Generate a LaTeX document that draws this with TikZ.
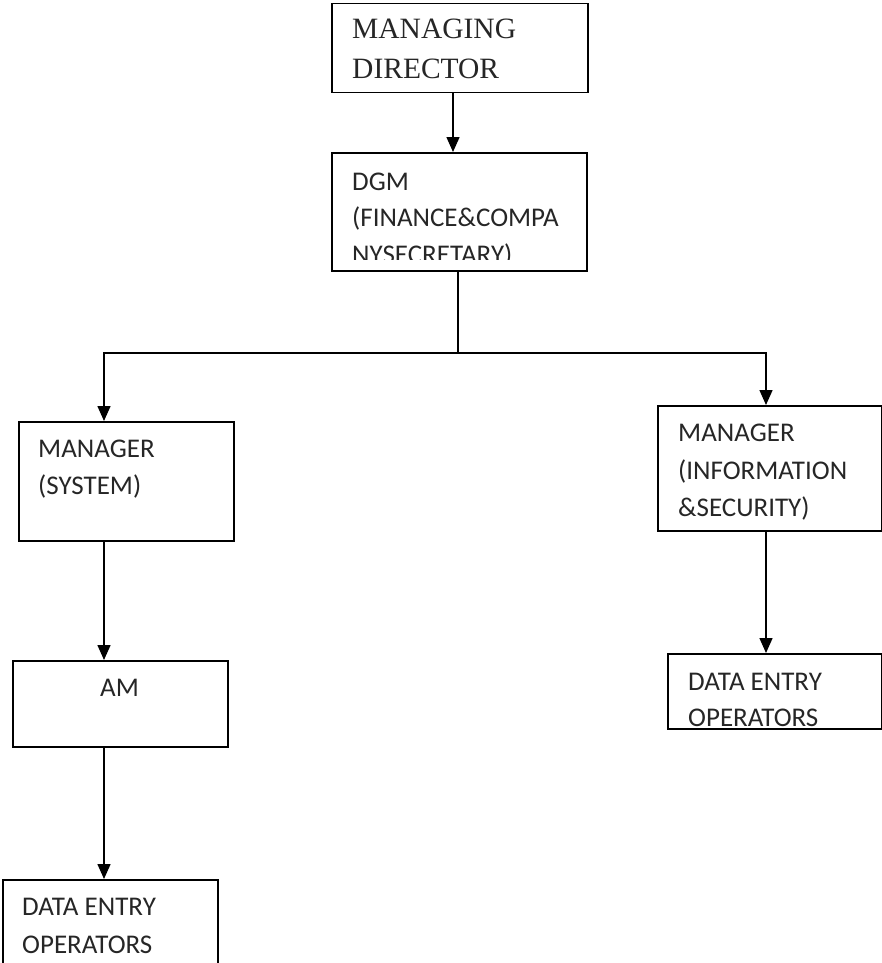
\documentclass[tikz,border=0pt]{standalone}
\usepackage{fontspec}
\setmainfont{Carlito}
\newfontfamily\serifname{Liberation Serif}
\usetikzlibrary{arrows.meta}
\begin{document}
\begin{tikzpicture}[x=1pt,y=-1pt,
  box/.style={draw, line width=1.5pt, rectangle, inner sep=0pt, anchor=north west},
  txt/.style={anchor=base west, inner sep=0pt, font=\fontsize{27}{32}\selectfont, text=black!85},
  stxt/.style={anchor=base west, inner sep=0pt, font=\serifname\fontsize{29.5}{34}\selectfont, text=black!85},
  link/.style={line width=1.5pt},
  arr/.style={line width=1.5pt, -{Triangle[width=13pt,length=15pt]}}]
\useasboundingbox (0,0) rectangle (882,963);

% boxes
\node[box, minimum width=256pt, minimum height=89pt] (md) at (331,3) {};
\node[box, minimum width=255pt, minimum height=118pt] (dgm) at (331,152) {};
\node[box, minimum width=215pt, minimum height=119pt] (mgrs) at (18,421) {};
\node[box, minimum width=224pt, minimum height=125pt] (mgri) at (657,405) {};
\node[box, minimum width=215pt, minimum height=86pt] (am) at (12,660) {};
\node[box, minimum width=215pt, minimum height=100pt] (deol) at (2,879) {};
\node[box, minimum width=214pt, minimum height=75pt] (deor) at (667,653) {};

% labels
\node[stxt] (mdt1) at (352,39) {MANAGING};
\node[stxt] (mdt2) at (352,79) {DIRECTOR};
\node[txt] (dgt1) at (352,190) {DGM};
\node[txt] (dgt2) at (352,226) {(FINANCE\&COMPA};
\begin{scope}
  \clip (331,152) rectangle (587,259);
  \node[txt] (dgt3) at (352,263) {NYSECRETARY)};
\end{scope}
\node[txt] (mst1) at (38,457) {MANAGER};
\node[txt] (mst2) at (38,494) {(SYSTEM)};
\node[txt] (mit1) at (678,441) {MANAGER};
\node[txt] (mit2) at (678,479) {(INFORMATION};
\node[txt] (mit3) at (678,516) {\&SECURITY)};
\node[txt] (amt) at (100,696) {AM};
\node[txt] (dlt1) at (22,915) {DATA ENTRY};
\node[txt] (dlt2) at (22,953) {OPERATORS};
\node[txt] (drt1) at (688,690) {DATA ENTRY};
\node[txt] (drt2) at (688,726) {OPERATORS};

% connector columns
\coordinate (ctop) at (453,0);
\coordinate (cl) at (104,0);
\coordinate (cr) at (766,0);
\coordinate (bus) at (458,353);

% connectors
\draw[arr] (ctop |- md.south) -- (ctop |- dgm.north);
\draw[link] (dgm.south -| bus) -- (bus);
\draw[arr] (bus) -| (cl |- mgrs.north);
\draw[arr] (bus) -| (cr |- mgri.north);
\draw[arr] (cl |- mgrs.south) -- (cl |- am.north);
\draw[arr] (cl |- am.south) -- (cl |- deol.north);
\draw[arr] (cr |- mgri.south) -- (cr |- deor.north);
\end{tikzpicture}
\end{document}
